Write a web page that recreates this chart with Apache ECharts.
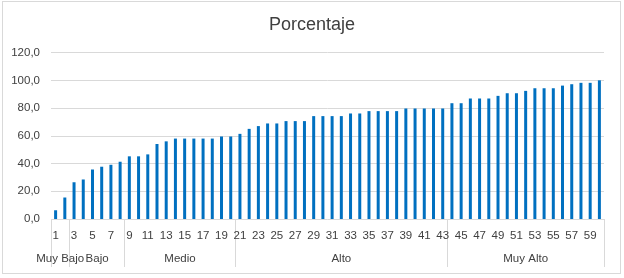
<!DOCTYPE html>
<html>
<head>
<meta charset="utf-8">
<script src="https://cdn.jsdelivr.net/npm/echarts@6/dist/echarts.min.js"></script>
<style>
html,body{margin:0;padding:0;background:#fff;}
#wrap{position:relative;width:624px;height:278px;}
#chart{width:624px;height:278px;}
#frame{position:absolute;left:2px;top:1px;width:617px;height:271px;border:1px solid #d9d9d9;pointer-events:none;}
</style>
</head>
<body>
<div id="wrap"><div id="chart"></div><div id="frame"></div></div>
<script>
const categories = Array.from({length: 60}, (_, i) => String(i + 1));
const values = [6.3, 15.5, 26.5, 28.5, 35.7, 37.7, 39.1, 41.3, 45.2, 45.2,
  46.6, 54.1, 56.0, 58.0, 58.0, 58.0, 58.0, 58.0, 59.5, 59.5,
  61.4, 65.0, 67.0, 68.9, 68.9, 70.6, 70.6, 70.6, 74.2, 74.2,
  74.2, 74.2, 76.1, 76.1, 77.8, 77.8, 77.8, 77.8, 79.7, 79.7,
  79.7, 79.7, 79.7, 83.5, 83.5, 86.9, 86.9, 86.9, 88.8, 90.7,
  90.7, 92.4, 94.3, 94.3, 94.3, 96.2, 97.2, 98.2, 98.2, 100.0];
const groupNames = ['Muy Bajo', 'Bajo', 'Medio', 'Alto', 'Muy Alto'];
const groupStarts = [1, 3, 9, 21, 44];
const groupEnds = [2, 8, 20, 43, 60];
const yTicks = [0, 20, 40, 60, 80, 100, 120];

const boundaries = [groupStarts[0] - 1].concat(groupEnds);
const centers = groupStarts.map((s, i) => (s - 1 + groupEnds[i]) / 2);

const font = 'Liberation Sans';
const chart = echarts.init(document.getElementById('chart'), null, {renderer: 'canvas'});
chart.setOption({
  animation: false,
  backgroundColor: '#ffffff',
  title: {
    text: 'Porcentaje', left: 'center', top: 11,
    textStyle: {fontFamily: font, fontSize: 18, fontWeight: 'normal', color: '#404040'}
  },
  grid: {left: 51, right: 20, top: 52.6, bottom: 59, containLabel: false},
  xAxis: [{
    type: 'category', data: categories, boundaryGap: true,
    axisLine: {show: false},
    axisTick: {show: false},
    axisLabel: {interval: 1, margin: 11, fontFamily: font, fontSize: 11.5, color: '#404040'}
  }, {
    type: 'value', min: 0, max: 60, position: 'bottom',
    splitLine: {show: false},
    axisLine: {show: false},
    axisTick: {show: true, customValues: boundaries, length: 48, inside: false,
      lineStyle: {color: '#d9d9d9', width: 1}},
    axisLabel: {customValues: centers, margin: 34, fontFamily: font, fontSize: 11.5, color: '#404040',
      formatter: v => groupNames[centers.indexOf(v)] || ''}
  }],
  yAxis: {
    type: 'value', min: yTicks[0], max: yTicks[yTicks.length - 1], interval: 20,
    axisLine: {show: false}, axisTick: {show: false},
    splitLine: {lineStyle: {color: '#d9d9d9', width: 1}},
    axisLabel: {margin: 11, fontFamily: font, fontSize: 11.5, color: '#404040',
      formatter: v => v.toFixed(1).replace('.', ',')}
  },
  series: [{
    type: 'bar', data: values, xAxisIndex: 0, barWidth: 3,
    itemStyle: {color: '#0070C0'}
  }]
});
</script>
</body>
</html>
